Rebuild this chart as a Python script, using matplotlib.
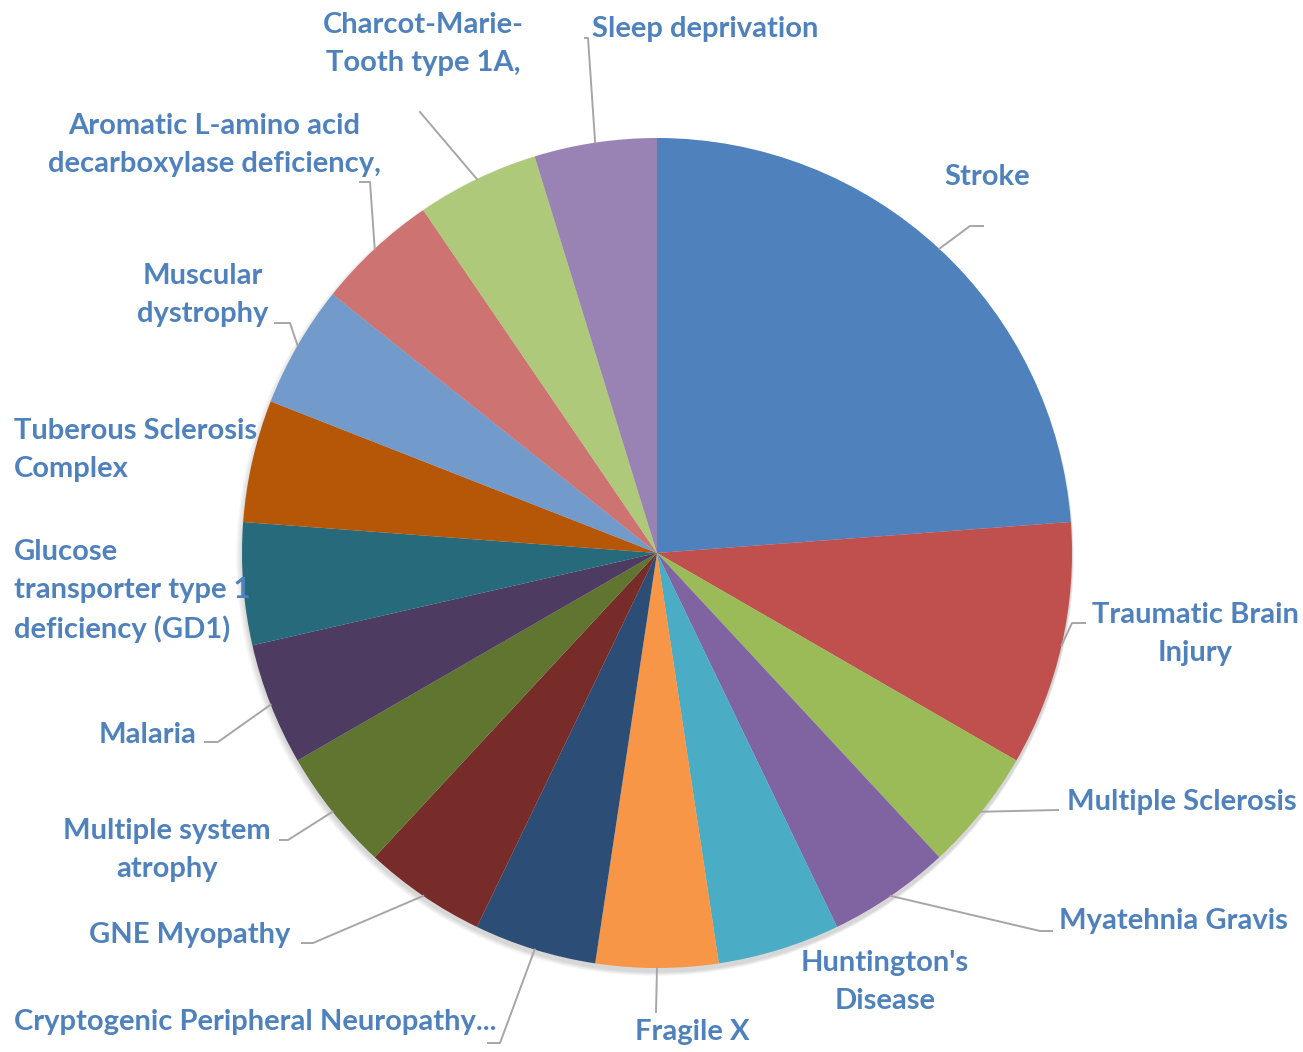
import matplotlib.pyplot as plt
import numpy as np

# data ------------------------------------------------------------
labels = ["Stroke", "Traumatic Brain\nInjury", "Multiple Sclerosis",
          "Myatehnia Gravis", "Huntington's\nDisease", "Fragile X",
          "Cryptogenic Peripheral Neuropathy...", "GNE Myopathy",
          "Multiple system\natrophy", "Malaria",
          "Glucose\ntransporter type 1\ndeficiency (GD1)",
          "Tuberous Sclerosis\nComplex", "Muscular\ndystrophy",
          "Aromatic L-amino acid\ndecarboxylase deficiency,",
          "Charcot-Marie-\nTooth type 1A,", "Sleep deprivation"]
values = [5, 2, 1, 1, 1, 1, 1, 1, 1, 1, 1, 1, 1, 1, 1, 1]
colors = ["#4F81BD", "#C0504D", "#9BBB59", "#8064A2", "#4BACC6", "#F79646",
          "#2C4D75", "#772C2A", "#5F7530", "#4D3B62", "#276A7C", "#B65708",
          "#729ACA", "#CD7371", "#AFC97A", "#9983B5"]

# label layout in pixels: (text x, text y, ha, elbow points of leader or None)
W, H = 1303, 1052
CX, CY, R = 657, 553, 415
layout = [
    (987, 177, 'center', [(970, 226), (983, 226)]),
    (1195, 634, 'center', [(1072, 623), (1085, 623)]),
    (1182, 802, 'center', [(1058, 810)]),
    (1173, 921, 'center', [(1040, 931), (1052, 931)]),
    (885, 982, 'center', None),
    (692, 1032, 'center', [(656, 1012)]),
    (14, 1022, 'left', [(500, 1043), (488, 1043)]),
    (190, 935, 'center', [(313, 943), (302, 943)]),
    (167, 850, 'center', [(288, 840), (280, 840)]),
    (148, 735, 'center', [(218, 742), (205, 742)]),
    (14, 591, 'left', None),
    (14, 450, 'left', None),
    (203, 295, 'center', [(290, 323), (275, 323)]),
    (214, 145, 'center', [(370, 182), (360, 182)]),
    (423, 44, 'center', [(420, 112)]),
    (705, 29, 'center', [(588, 38), (585, 38)]),
]

def fy(y):
    return H - y

fig = plt.figure(figsize=(W / 100, H / 100), dpi=100)
ax = fig.add_axes([0, 0, 1, 1])

# faint shadow under the pie
for k in range(8):
    sh = plt.Circle((CX - 2 + k * 0.3, fy(CY) - 4), R + 4 - k * 0.5,
                    color='#000000', alpha=0.02, lw=0, zorder=0)
    ax.add_patch(sh)

wedges, _ = ax.pie(values, colors=colors, startangle=90, counterclock=False,
                   radius=R, center=(CX, fy(CY)),
                   wedgeprops=dict(linewidth=0))

ax.set_xlim(0, W)
ax.set_ylim(0, H)
ax.set_aspect('equal')
ax.axis('off')

for w, lab, (tx, ty, ha, elbow) in zip(wedges, labels, layout):
    ang = np.deg2rad((w.theta1 + w.theta2) / 2)
    sx = CX + R * np.cos(ang)
    sy = fy(CY) + R * np.sin(ang)
    if elbow is not None:
        xs = [sx] + [p[0] for p in elbow]
        ys = [sy] + [fy(p[1]) for p in elbow]
        ax.plot(xs, ys, color='#A6A6A6', lw=1.4, zorder=3)
    ax.text(tx, fy(ty), lab, ha=ha, va='center', multialignment=ha,
            fontsize=21, fontweight='bold', family='Lato', color='#4F81BD',
            linespacing=1.55, zorder=4)

plt.savefig("out.png", dpi=100)
